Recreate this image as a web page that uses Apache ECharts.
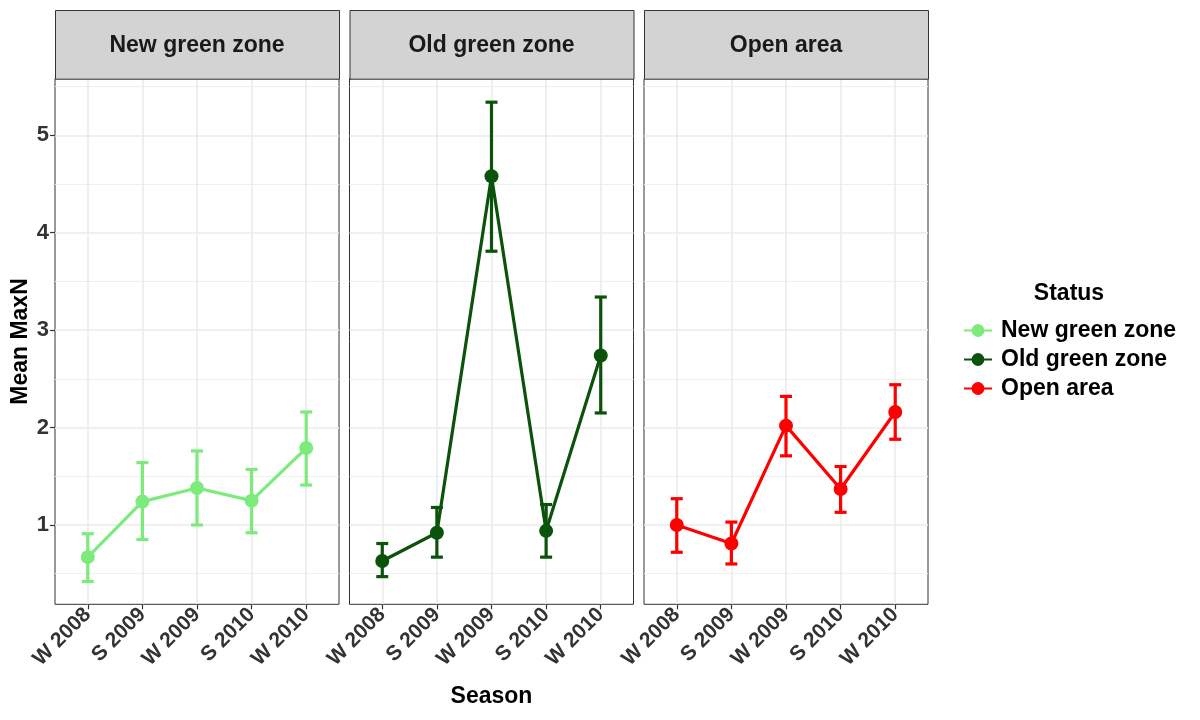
<!DOCTYPE html>
<html>
<head>
<meta charset="utf-8">
<script src="https://cdn.jsdelivr.net/npm/echarts@6/dist/echarts.min.js"></script>
<style>html,body{margin:0;padding:0;background:#fff}#c{width:1200px;height:720px}</style>
</head>
<body>
<div id="c"></div>
<script>
// ---- data ----
const seasons = ['W 2008', 'S 2009', 'W 2009', 'S 2010', 'W 2010'];
const panels = ['New green zone', 'Old green zone', 'Open area'];
const yTicks = [1, 2, 3, 4, 5];
const yMinor = [0.5, 1.5, 2.5, 3.5, 4.5, 5.5];
const xTicks = [1, 2, 3, 4, 5];

const newMean = [0.67, 1.24, 1.38, 1.25, 1.79];
const newLo   = [0.42, 0.85, 1.00, 0.92, 1.41];
const newHi   = [0.91, 1.64, 1.76, 1.57, 2.16];

const oldMean = [0.63, 0.92, 4.58, 0.94, 2.74];
const oldLo   = [0.47, 0.67, 3.81, 0.67, 2.15];
const oldHi   = [0.81, 1.18, 5.34, 1.21, 3.34];

const openMean = [1.00, 0.81, 2.02, 1.37, 2.16];
const openLo   = [0.72, 0.60, 1.71, 1.13, 1.88];
const openHi   = [1.27, 1.03, 2.32, 1.60, 2.44];

const colors = ['#7CEB7C', '#0B520B', '#FF0000'];
const means = [newMean, oldMean, openMean];
const los = [newLo, oldLo, openLo];
const his = [newHi, oldHi, openHi];

// ---- layout ----
const FONT = '"Liberation Sans", Arial, sans-serif';
const gridLeft = [55, 349.5, 644];
const gridW = 284;
const gridTop = 78.7;
const gridH = 525.6;
const stripTop = 10;
const Y_MIN = 0.186, Y_MAX = 5.581;

const chart = echarts.init(document.getElementById('c'), null, {renderer: 'canvas'});

const grids = [], xAxes = [], yAxes = [], series = [], graphics = [];
for (let i = 0; i < 3; i++) {
  grids.push({left: gridLeft[i], top: gridTop, width: gridW, height: gridH,
    show: true, borderColor: '#333333', borderWidth: 1, backgroundColor: 'transparent', containLabel: false});
  xAxes.push({
    type: 'value', gridIndex: i, min: 0.4, max: 5.6, splitNumber: 5,
    name: i === 1 ? 'Season' : '', nameLocation: 'middle', nameGap: 81,
    nameTextStyle: {fontFamily: FONT, fontWeight: 'bold', fontSize: 23, color: '#000'},
    axisLine: {show: false},
    axisTick: {show: true, length: 5, lineStyle: {color: '#333', width: 1.2}, customValues: xTicks},
    axisLabel: {show: true, rotate: 45, margin: 7, fontFamily: FONT, fontWeight: 'bold', fontSize: 21, color: '#333',
      customValues: xTicks,
      formatter: v => { const k = Math.round(v); return Math.abs(v - k) < 1e-6 && k >= 1 && k <= 5 ? seasons[k - 1] : ''; }},
    splitLine: {show: true, lineStyle: {color: '#EBEBEB', width: 1.6}}
  });
}
// minor (half-unit) y gridlines
for (let i = 0; i < 3; i++) {
  yAxes.push({
    type: 'value', gridIndex: i, min: Y_MIN, max: Y_MAX,
    axisLine: {show: false},
    axisTick: {show: false, customValues: yMinor},
    axisLabel: {show: false, customValues: yMinor},
    splitLine: {show: true, lineStyle: {color: '#EFEFEF', width: 1.1}}
  });
}
// major (integer) y gridlines, ticks and labels
for (let i = 0; i < 3; i++) {
  yAxes.push({
    type: 'value', gridIndex: i, min: Y_MIN, max: Y_MAX, position: 'left',
    name: i === 0 ? 'Mean MaxN' : '', nameLocation: 'middle', nameGap: 23, nameRotate: 90,
    nameTextStyle: {fontFamily: FONT, fontWeight: 'bold', fontSize: 23, color: '#000'},
    axisLine: {show: false},
    axisTick: {show: i === 0, length: 5, lineStyle: {color: '#333', width: 1.2}, customValues: yTicks},
    axisLabel: {show: i === 0, margin: 6, fontFamily: FONT, fontWeight: 'bold', fontSize: 22, color: '#333',
      customValues: yTicks, formatter: v => String(Math.round(v))},
    splitLine: {show: true, lineStyle: {color: '#EBEBEB', width: 1.6}}
  });
}
for (let i = 0; i < 3; i++) {
  const pts = means[i].map((m, j) => [j + 1, m]);
  const bars = means[i].map((m, j) => [j + 1, los[i][j], his[i][j]]);
  series.push({
    type: 'custom', name: panels[i] + ' error', xAxisIndex: i, yAxisIndex: i, data: bars, z: 3,
    itemStyle: {color: colors[i]},
    encode: {x: 0, y: [1, 2]},
    renderItem: (params, api) => {
      const x = api.value(0);
      const lo = api.coord([x, api.value(1)]);
      const hi = api.coord([x, api.value(2)]);
      const hw = 6;
      const st = {stroke: colors[i], lineWidth: 3.2};
      return {type: 'group', children: [
        {type: 'line', shape: {x1: lo[0], y1: lo[1], x2: hi[0], y2: hi[1]}, style: st},
        {type: 'line', shape: {x1: lo[0] - hw, y1: lo[1], x2: lo[0] + hw, y2: lo[1]}, style: st},
        {type: 'line', shape: {x1: hi[0] - hw, y1: hi[1], x2: hi[0] + hw, y2: hi[1]}, style: st}
      ]};
    }
  });
  series.push({
    type: 'line', name: panels[i], xAxisIndex: i, yAxisIndex: i, data: pts, z: 4,
    symbol: 'circle', symbolSize: 14, showSymbol: true,
    lineStyle: {color: colors[i], width: 3.2}, itemStyle: {color: colors[i]},
    emphasis: {disabled: true}
  });
  graphics.push({type: 'rect', left: gridLeft[i], top: stripTop, z: 10,
    shape: {width: gridW, height: gridTop - stripTop},
    style: {fill: '#D3D3D3', stroke: '#333333', lineWidth: 1}});
  graphics.push({type: 'text', z: 11, x: gridLeft[i] + gridW / 2, y: (stripTop + gridTop) / 2 + 1,
    style: {text: panels[i], fill: '#1A1A1A', font: 'bold 23px ' + FONT, textAlign: 'center', textVerticalAlign: 'middle'}});
}

graphics.push({type: 'text', z: 11, x: 1069, y: 294,
  style: {text: 'Status', fill: '#000', font: 'bold 23px ' + FONT, textAlign: 'center', textVerticalAlign: 'middle'}});

chart.setOption({
  animation: false,
  backgroundColor: '#ffffff',
  grid: grids, xAxis: xAxes, yAxis: yAxes, series: series, graphic: graphics,
  legend: {
    data: panels.map(n => ({name: n})),
    orient: 'vertical', left: 958, top: 314, itemWidth: 28, itemHeight: 16, itemGap: 6,
    textStyle: {fontFamily: FONT, fontWeight: 'bold', fontSize: 23, lineHeight: 23, color: '#000', padding: [0, 0, 0, 4]},
    selectedMode: false
  }
});
</script>
</body>
</html>
